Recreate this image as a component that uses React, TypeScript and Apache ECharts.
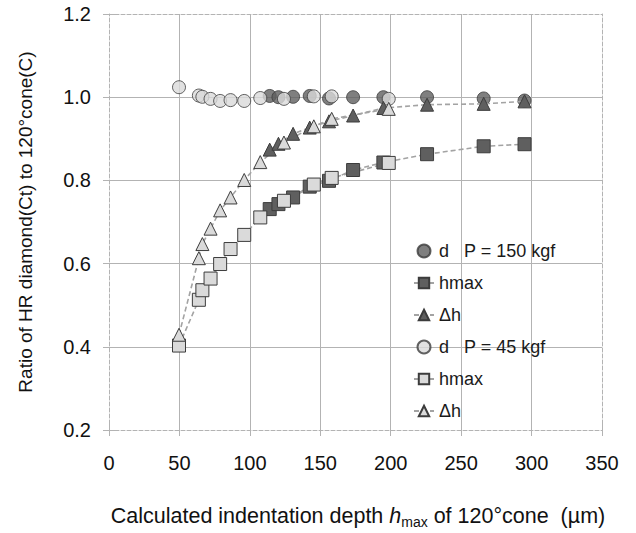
import React, { useEffect, useRef } from "react";
import * as echarts from "echarts";

// Depth (µm) for P = 150 kgf and P = 45 kgf
const depth150 = [114.1, 120.3, 130.7, 142.5, 156.2, 173.3, 194.8, 225.8, 266, 295];
const d150 = [1.003, 1.0, 1.001, 1.003, 0.997, 1.0, 1.0, 1.0, 0.997, 0.992];
const hmax150 = [0.731, 0.743, 0.759, 0.785, 0.799, 0.825, 0.843, 0.863, 0.882, 0.887];
const dh150 = [0.874, 0.888, 0.912, 0.927, 0.942, 0.956, 0.974, 0.982, 0.984, 0.99];

const depth45 = [49.7, 63.8, 66.3, 72.1, 78.9, 86.3, 96.0, 107.4, 124.2, 145.4, 158.1, 198.6];
const d45 = [1.024, 1.004, 1.001, 0.996, 0.991, 0.993, 0.991, 0.998, 0.996, 1.002, 1.002, 0.996];
const hmax45 = [0.403, 0.513, 0.536, 0.564, 0.599, 0.635, 0.669, 0.711, 0.751, 0.79, 0.806, 0.842];
const dh45 = [0.429, 0.613, 0.647, 0.684, 0.728, 0.759, 0.801, 0.844, 0.891, 0.93, 0.948, 0.972];

const seriesNames = ["d   P = 150 kgf", "hmax", "Δh", "d   P = 45 kgf", "hmax ", "Δh "];

const xTitle = "Calculated indentation depth {i|h}{s|max} of 120°cone  (µm)";
const yTitle = "Ratio of HR diamond(Ct) to 120°cone(C)";

const FONT = "'Liberation Sans', Arial, sans-serif";
const DARK = "#5f5f5f";
const LIGHT = "#dadada";
const EDGE = "#3c3c3c";
const LINE = "#a3a3a3";
const GRIDC = "#b3b3b3";

const zip = (xs: number[], ys: number[]) => xs.map((x, i) => [x, ys[i]]);

export default function App() {
  const ref = useRef<HTMLDivElement>(null);
  useEffect(() => {
    document.body.style.margin = "0";
    const chart = echarts.init(ref.current!, null, { renderer: "svg" });
    const dashed = { color: LINE, width: 1.6, type: [5, 3] as any };
    const mk = (fill: string) => ({ color: fill, borderColor: EDGE, borderWidth: 1 });
    const xBase = { type: "value", min: 0, max: 350, interval: 50 };
    const yBase = { type: "value", min: 0.2, max: 1.2, interval: 0.2 };
    const frameLine = { show: true, onZero: false, lineStyle: { color: GRIDC, type: [4, 2] } };
    const innerTicks = {
      axisLine: { show: false },
      axisTick: { show: true, inside: true, length: 6, lineStyle: { color: GRIDC } },
      axisLabel: { show: false },
      splitLine: { show: false },
    };
    chart.setOption({
      animation: false,
      textStyle: { fontFamily: FONT },
      grid: { left: 109, top: 14, width: 493, height: 416, containLabel: false },
      legend: {
        orient: "vertical",
        left: 408,
        top: 237,
        itemWidth: 20,
        itemHeight: 13,
        itemGap: 14,
        textStyle: { fontSize: 18, color: "#1a1a1a", fontFamily: FONT, lineHeight: 18 },
        data: seriesNames,
      },
      xAxis: [
        {
          ...xBase,
          axisLine: frameLine,
          axisTick: { show: true, length: 6, lineStyle: { color: GRIDC } },
          axisLabel: { fontSize: 20, color: "#111", margin: 23, fontFamily: FONT },
          splitLine: { show: true, showMinLine: false, showMaxLine: false, lineStyle: { color: GRIDC, width: 1 } },
        },
        {
          ...xBase,
          position: "top",
          axisLine: frameLine,
          axisTick: { show: false },
          axisLabel: { show: false },
          splitLine: { show: false },
        },
        { ...xBase, position: "bottom", ...innerTicks },
      ],
      yAxis: [
        {
          ...yBase,
          axisLine: frameLine,
          axisTick: { show: true, length: 6, lineStyle: { color: GRIDC } },
          axisLabel: {
            fontSize: 20,
            color: "#111",
            margin: 18,
            fontFamily: FONT,
            formatter: (v: number) => v.toFixed(1),
          },
          splitLine: { show: true, showMinLine: false, showMaxLine: false, lineStyle: { color: GRIDC, width: 1 } },
        },
        {
          ...yBase,
          position: "right",
          axisLine: frameLine,
          axisTick: { show: false },
          axisLabel: { show: false },
          splitLine: { show: false },
        },
        { ...yBase, position: "left", ...innerTicks },
      ],
      graphic: [
        {
          type: "text",
          x: 25,
          y: 222,
          rotation: Math.PI / 2,
          style: {
            text: yTitle,
            font: `19px ${FONT}`,
            fill: "#111",
            align: "center",
            verticalAlign: "middle",
          },
        },
        {
          type: "text",
          x: 358,
          y: 516,
          style: {
            text: xTitle,
            fontSize: 21.5,
            fontFamily: FONT,
            fill: "#111",
            align: "center",
            verticalAlign: "middle",
            rich: {
              i: { fontSize: 21.5, fontStyle: "italic", fontFamily: FONT, fill: "#111" },
              s: { fontSize: 14, fontFamily: FONT, fill: "#111", padding: [12, 0, 0, 0] },
            },
          },
        },
      ],
      series: [
        {
          name: seriesNames[0],
          type: "scatter",
          symbol: "circle",
          symbolSize: 13,
          itemStyle: mk(DARK),
          data: zip(depth150, d150),
        },
        {
          name: seriesNames[1],
          type: "line",
          symbol: "rect",
          symbolSize: 13,
          showAllSymbol: true,
          itemStyle: mk(DARK),
          lineStyle: dashed,
          data: zip(depth150, hmax150),
        },
        {
          name: seriesNames[2],
          type: "line",
          symbol: "triangle",
          symbolSize: 13,
          showAllSymbol: true,
          itemStyle: mk(DARK),
          lineStyle: dashed,
          data: zip(depth150, dh150),
        },
        {
          name: seriesNames[3],
          type: "scatter",
          symbol: "circle",
          symbolSize: 13,
          itemStyle: mk(LIGHT),
          data: zip(depth45, d45),
        },
        {
          name: seriesNames[4],
          type: "line",
          symbol: "rect",
          symbolSize: 13,
          showAllSymbol: true,
          itemStyle: mk(LIGHT),
          lineStyle: dashed,
          data: zip(depth45, hmax45),
        },
        {
          name: seriesNames[5],
          type: "line",
          symbol: "triangle",
          symbolSize: 13,
          showAllSymbol: true,
          itemStyle: mk(LIGHT),
          lineStyle: dashed,
          data: zip(depth45, dh45),
        },
      ],
    });
    return () => chart.dispose();
  }, []);
  return <div ref={ref} style={{ width: 636, height: 533 }} />;
}
